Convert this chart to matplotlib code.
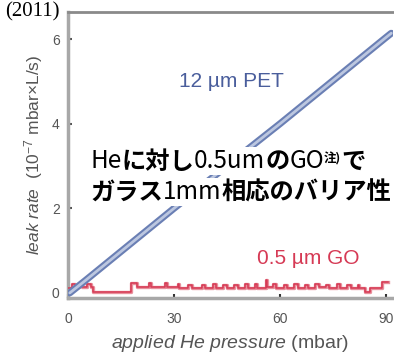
import matplotlib
matplotlib.use("Agg")
import matplotlib.pyplot as plt

plt.rcParams["font.family"] = ["Liberation Sans", "DejaVu Sans"]
plt.rcParams["mathtext.fontset"] = "custom"
plt.rcParams["mathtext.rm"] = "Liberation Sans"
plt.rcParams["mathtext.it"] = "Liberation Sans:italic"

# 12 um PET : leak rate (10^-7 mbar L/s) vs applied He pressure (mbar)
pet_pressure = [0.5, 5, 10, 15, 20, 25, 30, 35, 40, 45, 50, 55, 60, 65, 70, 75, 80, 85, 90, 91.5]
pet_rate = [0.0, 0.3, 0.64, 0.98, 1.32, 1.66, 2.0, 2.33, 2.67, 3.0, 3.34, 3.67, 4.0, 4.34, 4.68, 5.02, 5.36, 5.7, 6.04, 6.14]

# 0.5 um GO : noisy trace close to zero (step-like)
go_pressure = [0, 1, 2, 3, 4, 5.5, 6.5, 7, 17.8, 19.5, 23, 23.5, 27.5, 28, 31, 31.5, 34, 35,
               38, 38.7, 41, 42, 44, 45, 47, 48, 50, 51, 53, 53.5, 56, 56.4, 58, 59, 61, 62,
               64, 65, 67, 68, 70, 71, 73, 74, 76, 77, 79, 80, 82, 82.5, 84, 85.5, 88, 89, 90.5]
go_rate = [0.12, 0.22, 0.14, 0.24, 0.15, 0.22, 0.13, 0.03, 0.24, 0.13, 0.24, 0.13, 0.24, 0.13, 0.2, 0.12, 0.19, 0.12,
           0.18, 0.12, 0.2, 0.12, 0.19, 0.12, 0.18, 0.12, 0.2, 0.12, 0.22, 0.12, 0.3, 0.14, 0.2, 0.12, 0.19, 0.12,
           0.2, 0.12, 0.19, 0.12, 0.2, 0.13, 0.19, 0.12, 0.2, 0.12, 0.19, 0.12, 0.18, 0.12, 0.03, 0.12, 0.12, 0.27, 0.27]

x_ticks = [0, 30, 60, 90]
y_ticks = [0, 2, 4, 6]

grey = "#555555"

fig = plt.figure(figsize=(3.94, 3.53), dpi=100)
ax = fig.add_axes([0.1726, 0.1558, 0.825, 0.810])

ax.plot(go_pressure, go_rate, drawstyle="steps-post", color="#e8909c", lw=2.4, zorder=2)
ax.plot(go_pressure, go_rate, drawstyle="steps-post", color="#d63a55", lw=1.1, zorder=3)
ax.plot(pet_pressure, pet_rate, color="#6a7fb4", lw=5.0, solid_capstyle="round", zorder=4)
ax.plot(pet_pressure, pet_rate, color="#bcc7e0", lw=2.0, solid_capstyle="round", zorder=5)

ax.set_xlim(0, 92)
ax.set_ylim(-0.12, 6.64)
ax.set_xticks(x_ticks)
ax.set_yticks(y_ticks)
ax.tick_params(axis="both", direction="in", colors=grey, labelsize=10, length=3, width=1.5)
ax.tick_params(axis="x", colors="#333333", labelcolor=grey, pad=10)
ax.tick_params(axis="y", pad=6)

for side in ["left", "bottom"]:
    ax.spines[side].set_color("#a8a8a8")
    ax.spines[side].set_linewidth(2.5)
ax.spines["top"].set_color("#8a8a8a")
ax.spines["top"].set_linewidth(2.0)
ax.spines["right"].set_visible(False)

ax.set_xlabel(r"$\it{applied\ He\ pressure}$ (mbar)", color=grey, fontsize=14, labelpad=5)
ax.set_ylabel(r"$\it{leak\ rate}$  (10$^{-7}$ mbar$\times$L/s)", color=grey, fontsize=12.5, labelpad=5)

ax.text(31.3, 5.0, "12 µm PET", color="#4a5e9c", fontsize=15, va="center", ha="left")
ax.text(53.6, 0.82, "0.5 µm GO", color="#d63a55", fontsize=15, va="center", ha="left")

fig.text(0.012, 0.952, "(2011)", fontsize=15, family="Liberation Serif", va="baseline", ha="left")

# Japanese annotation, built from chained pieces (Latin regular, Japanese bold)
# each piece: text, weight, size, vertical shift in points relative to previous piece
jp = "Noto Sans CJK JP"
lines = [
    [("He", "normal", 17.5, 0), ("に対し", "bold", 17.5, 0), ("0.5um", "normal", 17.5, 0),
     ("の", "bold", 17.5, 0), ("GO", "normal", 17.5, 0), ("注)", "bold", 9, 6), ("で", "bold", 17.5, -6)],
    [("ガラス", "bold", 17.5, 0), ("1mm", "normal", 17.5, 0), ("相応のバリア性", "bold", 17.5, 0)],
]
starts = [(0.068, 0.455), (0.068, 0.343)]
for pieces, (x0, y0) in zip(lines, starts):
    prev = None
    for txt, weight, size, dy in pieces:
        if prev is None:
            prev = ax.text(x0, y0, txt, transform=ax.transAxes, family=[jp, "DejaVu Sans"],
                           fontweight=weight, fontsize=size, va="baseline", ha="left",
                           bbox=dict(facecolor="white", edgecolor="none", pad=1.0), zorder=6)
        else:
            prev = ax.annotate(txt, xy=(1, 0), xycoords=prev, xytext=(0, dy),
                               textcoords="offset points", family=[jp, "DejaVu Sans"],
                               fontweight=weight, fontsize=size, va="bottom", ha="left",
                               bbox=dict(facecolor="white", edgecolor="none", pad=0.5), zorder=6)

fig.savefig("out.png", dpi=100)
